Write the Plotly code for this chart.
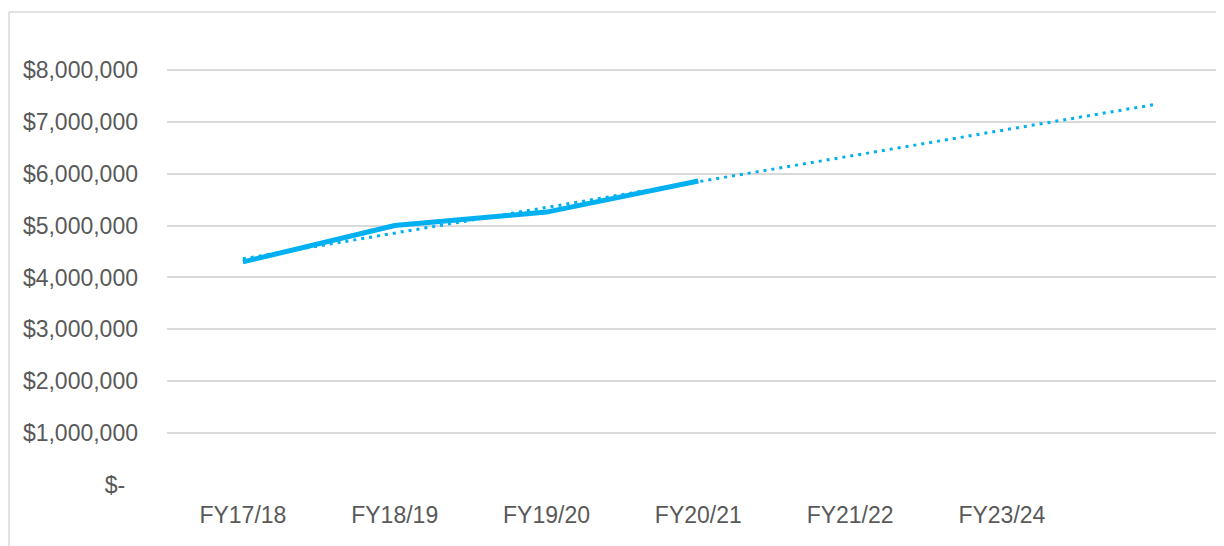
import plotly.graph_objects as go

categories = ["FY17/18", "FY18/19", "FY19/20", "FY20/21", "FY21/22", "FY23/24", ""]
actual_values = [4300000, 5000000, 5260000, 5860000]
# linear trendline end points (first and last category)
trend_positions = [0, 6]
trend_values = [4360000, 7330000]
y_ticks = [0, 1000000, 2000000, 3000000, 4000000, 5000000, 6000000, 7000000, 8000000]
y_tick_labels = ["$-\u00a0\u00a0", "$1,000,000", "$2,000,000", "$3,000,000", "$4,000,000",
                 "$5,000,000", "$6,000,000", "$7,000,000", "$8,000,000"]

BLUE = "#00B0F0"
GRID = "#D9D9D9"
TEXT = "#595959"

# page body adds an 8px offset, so the figure is 8px smaller than the window
W, H = 1216, 538
ML, MR, MT, MB = 159, 0, 36, 61

fig = go.Figure()
fig.add_trace(go.Scatter(
    x=list(range(len(actual_values))), y=actual_values, mode="lines",
    line=dict(color=BLUE, width=5), hoverinfo="skip", showlegend=False))
fig.add_trace(go.Scatter(
    x=trend_positions, y=trend_values, mode="lines",
    line=dict(color=BLUE, width=3, dash="3px,5px"), hoverinfo="skip", showlegend=False))

pw = W - ML - MR
ph = H - MT - MB
def px_x(p):
    return (p - ML) / pw
def px_y(p):
    return (H - MB - p) / ph

fig.add_shape(type="line", xref="paper", yref="paper",
              x0=px_x(1), x1=px_x(W + 5), y0=px_y(4), y1=px_y(4),
              line=dict(color=GRID, width=1.5))
fig.add_shape(type="line", xref="paper", yref="paper",
              x0=px_x(1), x1=px_x(1), y0=px_y(4), y1=px_y(H + 5),
              line=dict(color=GRID, width=1.5))

fig.update_layout(
    width=W, height=H,
    margin=dict(l=ML, r=MR, t=MT, b=MB),
    paper_bgcolor="white", plot_bgcolor="white",
    font=dict(family="Liberation Sans, Arial, sans-serif", size=23, color=TEXT),
    showlegend=False,
)
fig.update_xaxes(
    range=[-0.5, 6.463], tickmode="array",
    tickvals=list(range(len(categories))), ticktext=categories,
    showgrid=False, zeroline=False, showline=False, ticks="",
    ticklabelstandoff=14, fixedrange=True,
)
fig.update_yaxes(
    range=[0, 8500000], tickmode="array", tickvals=y_ticks, ticktext=y_tick_labels,
    showgrid=True, gridcolor=GRID, gridwidth=1.5, zeroline=False, showline=False,
    ticks="", ticklabelstandoff=28, fixedrange=True,
)

fig.write_html("out.html")
